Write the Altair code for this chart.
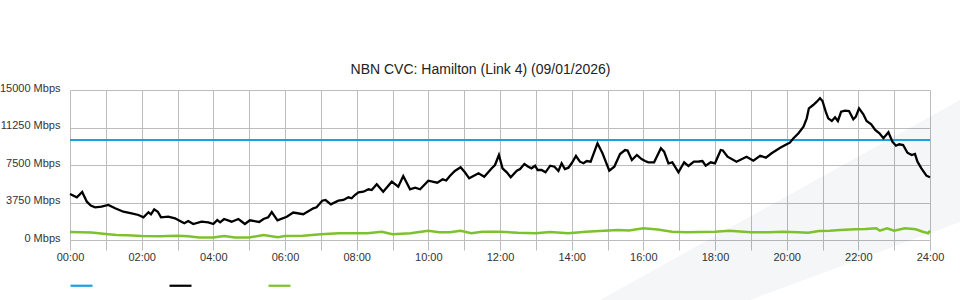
import altair as alt
import pandas as pd

title_text = "NBN CVC: Hamilton (Link 4) (09/01/2026)"
series_names = ["Capacity", "Download", "Upload"]
series_colors = ["#1ba1e2", "#000000", "#7dc22c"]

capacity_hours = [0, 24]
capacity_mbps = [10000, 10000]

download_hours = [
    0.00, 0.19, 0.34, 0.47, 0.58, 0.70, 0.88, 1.07, 1.26, 1.49, 1.72, 1.91,
    2.05, 2.19, 2.26, 2.35, 2.45, 2.54, 2.74, 2.93, 3.07, 3.19, 3.30, 3.44,
    3.67, 3.86, 4.00, 4.11, 4.19, 4.30, 4.51, 4.70, 4.88, 5.02, 5.28, 5.40,
    5.53, 5.63, 5.79, 6.05, 6.23, 6.51, 6.79, 6.88, 7.04, 7.13, 7.28, 7.49,
    7.63, 7.77, 7.86, 7.95, 8.05, 8.19, 8.33, 8.42, 8.56, 8.74, 8.98, 9.16,
    9.30, 9.49, 9.63, 9.77, 10.00, 10.25, 10.40, 10.50, 10.60, 10.74, 10.90,
    11.02, 11.14, 11.40, 11.56, 11.77, 11.86, 11.97, 12.07, 12.19, 12.30,
    12.47, 12.56, 12.68, 12.79, 12.88, 12.98, 13.05, 13.16, 13.27, 13.40,
    13.52, 13.63, 13.72, 13.81, 13.91, 14.00, 14.12, 14.23, 14.33, 14.42,
    14.53, 14.72, 14.86, 15.05, 15.19, 15.35, 15.49, 15.56, 15.68, 15.82,
    15.95, 16.05, 16.14, 16.30, 16.49, 16.58, 16.70, 16.81, 16.98, 17.14,
    17.26, 17.41, 17.55, 17.65, 17.74, 17.88, 18.00, 18.16, 18.22, 18.35,
    18.60, 18.88, 19.07, 19.26, 19.42, 19.58, 19.82, 20.00, 20.09, 20.19,
    20.33, 20.47, 20.56, 20.62, 20.74, 20.84, 20.93, 21.00, 21.09, 21.16,
    21.26, 21.35, 21.43, 21.52, 21.63, 21.74, 21.86, 21.93, 22.02, 22.14,
    22.23, 22.36, 22.47, 22.59, 22.70, 22.84, 22.95, 23.05, 23.14, 23.25,
    23.37, 23.49, 23.58, 23.65, 23.76, 23.90, 24.00,
]
download_mbps = [
    4600, 4270, 4800, 3830, 3450, 3270, 3330, 3500, 3170, 2830, 2670, 2500,
    2270, 2770, 2570, 3070, 2830, 2270, 2330, 2170, 1900, 1670, 1900, 1600,
    1830, 1770, 1600, 2000, 1770, 2100, 1830, 2100, 1600, 1970, 1800, 2100,
    2270, 2800, 1970, 2330, 2750, 2580, 3170, 3270, 3930, 4000, 3570, 3930,
    4000, 4270, 4170, 4500, 4770, 4830, 5070, 5000, 5570, 4830, 5830, 5330,
    6400, 5070, 5230, 5070, 5930, 5730, 6070, 5950, 6400, 6900, 7270,
    6770, 6170, 6670, 6330, 7170, 7500, 8500, 7170, 6770, 6270,
    6930, 7100, 7600, 7330, 7170, 7430, 7000, 7000, 6770, 7430,
    7330, 6900, 7670, 7100, 7230, 7670, 8400, 7830, 7670, 7900,
    7830, 9670, 8670, 6930, 7330, 8600, 9000, 8950, 8000, 8500,
    8100, 7900, 7770, 7770, 9170, 8830, 7670, 7770, 6770, 7770,
    7400, 7830, 7850, 7900, 7430, 7770, 7670, 9000, 8950, 8330,
    7830, 8330, 7930, 8430, 8230, 8670, 9230, 9570, 9730, 10170,
    10670, 11330, 12170, 13170, 13500, 13830, 14170, 13900, 12830, 12170,
    11900, 12270, 11900, 12830, 12930, 12900, 12070, 12330, 13170, 12570,
    11900, 11570, 11000, 10670, 10170, 10770, 9830, 9430, 9570, 9500,
    8730, 8500, 8600, 7830, 7170, 6430, 6270,
]

upload_hours = [
    0.0, 0.3, 0.6, 1.0, 1.3, 1.6, 2.0, 2.5, 3.0, 3.3, 3.6, 4.0, 4.3, 4.6,
    5.0, 5.4, 5.8, 6.0, 6.5, 7.0, 7.5, 8.0, 8.3, 8.7, 9.0, 9.5, 10.0, 10.3,
    10.6, 10.9, 11.2, 11.5, 12.0, 12.5, 13.0, 13.4, 13.9, 14.4, 14.9, 15.3,
    15.6, 16.0, 16.4, 16.8, 17.2, 17.6, 18.0, 18.4, 19.0, 19.5, 19.9, 20.3,
    20.6, 20.9, 21.2, 21.5, 21.9, 22.2, 22.5, 22.6, 22.8, 23.0, 23.3, 23.6,
    23.8, 23.95, 24.0,
]
upload_mbps = [
    800, 770, 750, 600, 500, 480, 400, 380, 430, 380, 250, 250, 400, 250,
    250, 500, 280, 400, 430, 570, 670, 670, 670, 830, 570, 670, 930, 770,
    770, 930, 670, 830, 830, 730, 670, 800, 670, 830, 930, 1000,
    950, 1170, 1050, 830, 770, 800, 830, 930, 770, 770, 830, 770,
    730, 900, 930, 1000, 1070, 1100, 1170, 930, 1170, 930, 1170, 1070,
    830, 670, 930,
]

y_ticks = [0, 3750, 7500, 11250, 15000]
x_ticks = list(range(0, 25))

# decorative background band (watermark), in chart units
band_hours = [14.79, 18.98, 24.84]
band_top = [-6000, 2338, 14000]
band_bottom = [-6000, -6000, 1800]

cap_df = pd.DataFrame({"hour": capacity_hours, "mbps": capacity_mbps, "series": series_names[0]})
down_df = pd.DataFrame({"hour": download_hours, "mbps": download_mbps, "series": series_names[1]})
up_df = pd.DataFrame({"hour": upload_hours, "mbps": upload_mbps, "series": series_names[2]})
band_df = pd.DataFrame({"hour": band_hours, "mbps": band_top, "bottom": band_bottom})

FONT = "Liberation Sans"
GRID = "#bcbcbc"

x_axis = alt.Axis(
    values=x_ticks,
    labelExpr="datum.value % 2 == 0 ? (datum.value < 10 ? '0' : '') + datum.value + ':00' : ''",
    grid=True, gridColor=GRID, gridWidth=1,
    ticks=True, tickSize=10, tickColor=GRID, tickWidth=1,
    domain=False, labelFlush=False, labelOverlap=False,
    labelPadding=1, labelFontSize=11, labelFont=FONT, labelColor="#333333",
    title=None,
)
y_axis = alt.Axis(
    values=y_ticks,
    labelExpr="datum.value + ' Mbps'",
    grid=True, gridColor=GRID, gridWidth=1,
    ticks=False, domain=False, labelOverlap=False,
    labelPadding=10, labelFontSize=11, labelFont=FONT, labelColor="#333333",
    labelOffset=-2,
    title=None,
)
x_scale = alt.Scale(domain=[0, 24], nice=False, zero=False)
y_scale = alt.Scale(domain=[0, 15000], nice=False)

x_enc = alt.X("hour:Q", scale=x_scale, axis=x_axis)
y_enc = alt.Y("mbps:Q", scale=y_scale, axis=y_axis)
color_enc = alt.Color(
    "series:N",
    scale=alt.Scale(domain=series_names, range=series_colors),
    legend=alt.Legend(
        orient="none", legendX=-1, legendY=183, direction="horizontal",
        title=None, symbolType="stroke", symbolSize=484, symbolStrokeWidth=2.2,
        labelExpr="''", labelOffset=0, columnPadding=68, padding=0,
    ),
)

band = alt.Chart(band_df).mark_area(color="#1f2d4d", opacity=0.045).encode(
    x=x_enc, y=y_enc, y2=alt.Y2("bottom:Q")
)
cap = alt.Chart(cap_df).mark_line(strokeWidth=2).encode(x=x_enc, y=y_enc, color=color_enc)
up = alt.Chart(up_df).mark_line(strokeWidth=2.5).encode(x=x_enc, y=y_enc, color=color_enc)
down = alt.Chart(down_df).mark_line(strokeWidth=2.3).encode(x=x_enc, y=y_enc, color=color_enc)

chart = (
    alt.layer(band, cap, up, down)
    .properties(
        width=860,
        height=150,
        autosize=alt.AutoSizeParams(type="none"),
        padding={"left": 70, "top": 90, "right": 30, "bottom": 60},
        title=alt.TitleParams(
            text=title_text, fontSize=14, font=FONT, fontWeight="normal",
            color="#222222", anchor="middle", dx=-19.5, offset=5,
        ),
        background="white",
    )
    .configure_view(stroke=None)
)

chart.save("out.html", embed_options={"renderer": "svg", "actions": False})
